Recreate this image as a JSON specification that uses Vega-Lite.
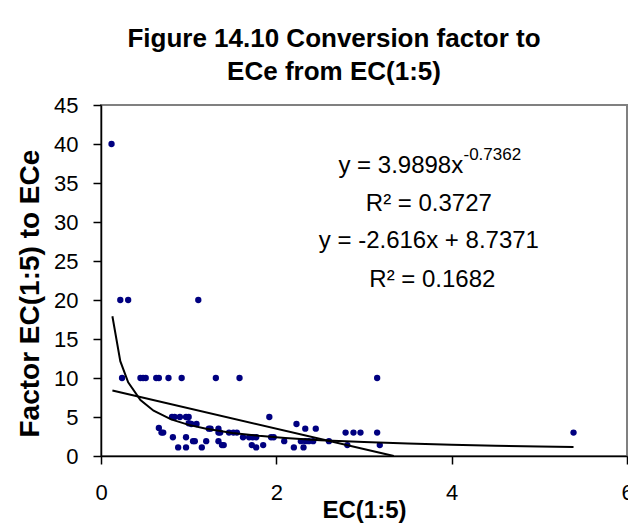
{
  "$schema": "https://vega.github.io/schema/vega-lite/v6.json",
  "width": 526,
  "height": 351,
  "autosize": {"type": "none"},
  "padding": {"left": 101, "top": 105, "right": 1, "bottom": 74},
  "background": "white",
  "title": {
    "text": ["Figure 14.10 Conversion factor to", "ECe from EC(1:5)"],
    "font": "Liberation Sans",
    "fontSize": 26,
    "fontWeight": "bold",
    "color": "black",
    "anchor": "middle",
    "dx": -30,
    "offset": 9,
    "lineHeight": 33
  },
  "config": {
    "view": {"stroke": "#808080", "strokeWidth": 2},
    "font": "Liberation Sans",
    "axis": {
      "grid": false,
      "domainColor": "black",
      "domainWidth": 1.5,
      "tickColor": "black",
      "tickWidth": 1.5,
      "tickSize": 8,
      "labelFont": "Liberation Sans",
      "labelFontSize": 22,
      "labelColor": "black",
      "labelFlush": false,
      "titleFont": "Liberation Sans",
      "titleColor": "black",
      "titleFontWeight": "bold"
    }
  },
  "datasets": {
    "samples": [
      {"ec": 0.12, "factor": 40},
      {"ec": 0.22, "factor": 20},
      {"ec": 0.31, "factor": 20},
      {"ec": 1.11, "factor": 20},
      {"ec": 0.24, "factor": 10},
      {"ec": 0.45, "factor": 10},
      {"ec": 0.48, "factor": 10},
      {"ec": 0.51, "factor": 10},
      {"ec": 0.63, "factor": 10},
      {"ec": 0.66, "factor": 10},
      {"ec": 0.77, "factor": 10},
      {"ec": 0.92, "factor": 10},
      {"ec": 1.31, "factor": 10},
      {"ec": 1.58, "factor": 10},
      {"ec": 3.15, "factor": 10},
      {"ec": 0.81, "factor": 5},
      {"ec": 0.84, "factor": 5},
      {"ec": 0.9, "factor": 5},
      {"ec": 0.97, "factor": 5},
      {"ec": 1.0, "factor": 5},
      {"ec": 1.92, "factor": 5},
      {"ec": 1.0, "factor": 4.2},
      {"ec": 1.03, "factor": 4.1},
      {"ec": 1.09, "factor": 4.1},
      {"ec": 2.23, "factor": 4.1},
      {"ec": 0.66, "factor": 3.6},
      {"ec": 1.23, "factor": 3.5},
      {"ec": 1.25, "factor": 3.5},
      {"ec": 1.34, "factor": 3.5},
      {"ec": 2.33, "factor": 3.5},
      {"ec": 2.45, "factor": 3.5},
      {"ec": 0.69, "factor": 3.0},
      {"ec": 0.71, "factor": 3.0},
      {"ec": 1.34, "factor": 3.0},
      {"ec": 1.36, "factor": 3.0},
      {"ec": 1.46, "factor": 3.0},
      {"ec": 1.51, "factor": 3.0},
      {"ec": 1.55, "factor": 3.0},
      {"ec": 2.79, "factor": 3.0},
      {"ec": 2.88, "factor": 3.0},
      {"ec": 2.96, "factor": 3.0},
      {"ec": 3.15, "factor": 3.0},
      {"ec": 5.39, "factor": 3.0},
      {"ec": 0.82, "factor": 2.4},
      {"ec": 0.97, "factor": 2.4},
      {"ec": 1.62, "factor": 2.4},
      {"ec": 1.69, "factor": 2.4},
      {"ec": 1.73, "factor": 2.4},
      {"ec": 1.77, "factor": 2.4},
      {"ec": 1.94, "factor": 2.4},
      {"ec": 1.97, "factor": 2.4},
      {"ec": 1.05, "factor": 1.9},
      {"ec": 1.07, "factor": 1.9},
      {"ec": 1.2, "factor": 1.9},
      {"ec": 1.34, "factor": 1.9},
      {"ec": 2.09, "factor": 1.9},
      {"ec": 2.28, "factor": 1.9},
      {"ec": 2.33, "factor": 1.9},
      {"ec": 2.37, "factor": 1.9},
      {"ec": 2.42, "factor": 1.9},
      {"ec": 2.6, "factor": 1.9},
      {"ec": 1.38, "factor": 1.4},
      {"ec": 1.4, "factor": 1.4},
      {"ec": 1.72, "factor": 1.4},
      {"ec": 1.85, "factor": 1.4},
      {"ec": 2.81, "factor": 1.4},
      {"ec": 3.18, "factor": 1.4},
      {"ec": 0.88, "factor": 1.1},
      {"ec": 0.97, "factor": 1.1},
      {"ec": 1.15, "factor": 1.1},
      {"ec": 1.77, "factor": 1.1},
      {"ec": 2.2, "factor": 1.1},
      {"ec": 2.31, "factor": 1.1}
    ],
    "trends": [
      {"fit": "power", "ec": 0.13, "factor": 17.92},
      {"fit": "power", "ec": 0.22, "factor": 12.16},
      {"fit": "power", "ec": 0.31, "factor": 9.45},
      {"fit": "power", "ec": 0.45, "factor": 7.18},
      {"fit": "power", "ec": 0.6, "factor": 5.81},
      {"fit": "power", "ec": 0.8, "factor": 4.7},
      {"fit": "power", "ec": 1.0, "factor": 3.99},
      {"fit": "power", "ec": 1.2, "factor": 3.49},
      {"fit": "power", "ec": 1.5, "factor": 2.96},
      {"fit": "power", "ec": 1.8, "factor": 2.59},
      {"fit": "power", "ec": 2.1, "factor": 2.31},
      {"fit": "power", "ec": 2.5, "factor": 2.03},
      {"fit": "power", "ec": 3.0, "factor": 1.78},
      {"fit": "power", "ec": 3.5, "factor": 1.59},
      {"fit": "power", "ec": 4.0, "factor": 1.44},
      {"fit": "power", "ec": 4.5, "factor": 1.32},
      {"fit": "power", "ec": 5.0, "factor": 1.22},
      {"fit": "power", "ec": 5.39, "factor": 1.16},
      {"fit": "linear", "ec": 0.13, "factor": 8.397},
      {"fit": "linear", "ec": 3.34, "factor": 0.0}
    ],
    "equations": [
      {"ec": 3.42, "factor": 36.33, "label": "y = 3.9898x"},
      {"ec": 3.74, "factor": 31.45, "label": "R² = 0.3727"},
      {"ec": 3.74, "factor": 26.62, "label": "y = -2.616x + 8.7371"},
      {"ec": 3.78, "factor": 21.69, "label": "R² = 0.1682"}
    ],
    "exponents": [
      {"ec": 4.135, "factor": 37.9, "label": "-0.7362"}
    ]
  },
  "encoding": {
    "x": {
      "field": "ec",
      "type": "quantitative",
      "scale": {"domain": [0, 6], "nice": false},
      "axis": {
        "values": [0, 2, 4, 6],
        "labelPadding": 18,
        "title": "EC(1:5)",
        "titleFontSize": 24,
        "titleBaseline": "alphabetic",
        "titleY": 61
      }
    },
    "y": {
      "field": "factor",
      "type": "quantitative",
      "scale": {"domain": [0, 45], "nice": false},
      "axis": {
        "values": [0, 5, 10, 15, 20, 25, 30, 35, 40, 45],
        "labelPadding": 15,
        "title": "Factor EC(1:5) to ECe",
        "titleFontSize": 28,
        "titleAngle": -90,
        "titleAlign": "left",
        "titleBaseline": "middle",
        "titleX": -71,
        "titleY": 332
      }
    }
  },
  "layer": [
    {
      "data": {"name": "samples"},
      "mark": {"type": "circle", "size": 40, "color": "#000080", "opacity": 1}
    },
    {
      "data": {"name": "trends"},
      "mark": {"type": "line", "color": "black", "strokeWidth": 2},
      "encoding": {
        "detail": {"field": "fit"},
        "order": {"field": "ec", "type": "quantitative"}
      }
    },
    {
      "data": {"name": "equations"},
      "mark": {"type": "text", "fontSize": 24, "color": "black", "align": "center", "baseline": "alphabetic"},
      "encoding": {"text": {"field": "label"}}
    },
    {
      "data": {"name": "exponents"},
      "mark": {"type": "text", "fontSize": 17, "color": "black", "align": "left", "baseline": "alphabetic"},
      "encoding": {"text": {"field": "label"}}
    }
  ]
}
